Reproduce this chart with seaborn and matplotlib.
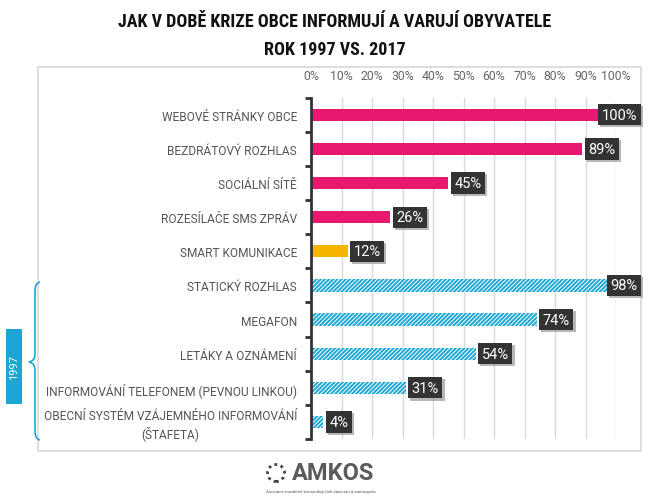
import numpy as np
import pandas as pd
import matplotlib
matplotlib.use('Agg')
import matplotlib.pyplot as plt
import seaborn as sns
from matplotlib.patches import Rectangle, PathPatch, Ellipse
from matplotlib.path import Path
import matplotlib.patheffects as pe

categories = ["WEBOVÉ STRÁNKY OBCE", "BEZDRÁTOVÝ ROZHLAS", "SOCIÁLNÍ SÍTĚ",
              "ROZESÍLAČE SMS ZPRÁV", "SMART KOMUNIKACE", "STATICKÝ ROZHLAS",
              "MEGAFON", "LETÁKY A OZNÁMENÍ", "INFORMOVÁNÍ TELEFONEM (PEVNOU LINKOU)",
              "OBECNÍ SYSTÉM VZÁJEMNÉHO INFORMOVÁNÍ\n(ŠTAFETA)"]
values = [100, 89, 45, 26, 12, 98, 74, 54, 31, 4]
groups = ["2017", "2017", "2017", "2017", "smart", "1997", "1997", "1997", "1997", "1997"]
tick_values = [0, 10, 20, 30, 40, 50, 60, 70, 80, 90, 100]
tick_labels = [f"{t}%" for t in tick_values]

PINK = "#E8176F"
ORANGE = "#F7B500"
CYAN = "#1BA6D3"

sns.set_theme(style="white")
plt.rcParams['font.family'] = ['Roboto', 'DejaVu Sans']
plt.rcParams['hatch.linewidth'] = 1.4

W, H = 670, 502
fig = plt.figure(figsize=(6.7, 5.02), dpi=100, facecolor='white')
def fx(p): return p / W
def fy(p): return 1 - p / H

ax = fig.add_axes([fx(311), fy(440), fx(616) - fx(311), fy(98.7) - fy(440)])

df = pd.DataFrame({"category": categories, "value": values, "group": groups})
palette = {"2017": PINK, "smart": ORANGE, "1997": "#FFFFFF"}
sns.barplot(data=df, x="value", y="category", hue="group", palette=palette,
            dodge=False, width=0.36, ax=ax, legend=False, saturation=1,
            order=categories)

for p in ax.patches:
    w = p.get_width()
    if not np.isfinite(w):
        continue
    idx = int(round(p.get_y() + p.get_height() / 2))
    p.set_linewidth(0)
    if groups[idx] == "1997":
        p.set_hatch('////////')
        p.set_edgecolor(CYAN)
        p.set_facecolor('white')

ax.set_xlim(0, 100)
ax.set_ylim(9.5, -0.5)
ax.xaxis.tick_top()
ax.set_xticks(tick_values, tick_labels)
ax.tick_params(axis='x', length=0, pad=11, labelsize=8.8, labelcolor='#666666')
ax.grid(axis='x', color='#dadada', lw=1)
ax.grid(axis='y', visible=False)
ax.set_axisbelow(True)
for s in ['top', 'right', 'bottom']:
    ax.spines[s].set_visible(False)
ax.spines['left'].set_color('#333333')
ax.spines['left'].set_linewidth(2)
ax.set_yticks(range(len(categories)), categories)
ax.tick_params(axis='y', which='major', length=0, pad=10, labelsize=8.6, labelcolor='#555555')
ax.set_yticks(np.arange(-0.5, len(categories), 1), minor=True)
ax.tick_params(axis='y', which='minor', length=4, width=2, color='#333333', left=True)
ax.set_xlabel('')
ax.set_ylabel('')
for lab in ax.get_yticklabels():
    lab.set_multialignment('center')

edge_frac = (641 - 311) / (616 - 311)
for i, v in enumerate(values):
    label = f"{v}%"
    if v >= 95:
        t = ax.annotate(label, xy=(edge_frac, i), xycoords=('axes fraction', 'data'),
                        xytext=(-2.6, 0), textcoords='offset points', ha='right', va='center',
                        color='white', fontsize=10.5,
                        bbox=dict(boxstyle='square,pad=0.25', fc='#333333', ec='none'))
    else:
        t = ax.annotate(label, xy=(v, i), xytext=(4.3, 0), textcoords='offset points',
                        ha='left', va='center', color='white', fontsize=10.5,
                        bbox=dict(boxstyle='square,pad=0.25', fc='#333333', ec='none'))
    t.set_clip_on(False)
    t.get_bbox_patch().set_path_effects([
        pe.SimplePatchShadow(offset=(1.5, -1.5), shadow_rgbFace='#888888', alpha=0.6),
        pe.Normal()])

# Title
title_font = ['Roboto Condensed', 'Roboto', 'DejaVu Sans']
fig.text(0.5, fy(22), "JAK V DOBĚ KRIZE OBCE INFORMUJÍ A VARUJÍ OBYVATELE",
         ha='center', va='center', fontsize=13, weight='bold', family=title_font, color='#111111')
fig.text(0.5, fy(50), "ROK 1997 VS. 2017",
         ha='center', va='center', fontsize=13, weight='bold', family=title_font, color='#111111')

# Panel border
fig.add_artist(Rectangle((fx(38), fy(452)), fx(641) - fx(38), fy(68) - fy(452),
                         transform=fig.transFigure, fill=False, edgecolor='#d8d8d8', lw=1.2, zorder=0))

# Brace for 1997
pts = [(40, 283), (35, 284), (35, 292), (35, 300),
       (35, 355), (35, 362), (29, 363), (35, 364), (35, 371),
       (35, 432), (35, 440), (40, 441)]
verts = [(fx(x), fy(y)) for x, y in pts]
codes = [Path.MOVETO, Path.CURVE3, Path.CURVE3, Path.LINETO,
         Path.LINETO, Path.CURVE3, Path.CURVE3, Path.CURVE3, Path.CURVE3,
         Path.LINETO, Path.CURVE3, Path.CURVE3]
fig.add_artist(PathPatch(Path(verts, codes), transform=fig.transFigure, fill=False,
                         edgecolor=CYAN, lw=1.2))
fig.add_artist(Rectangle((fx(6), fy(405)), fx(22) - fx(6), fy(330) - fy(405),
                         transform=fig.transFigure, facecolor=CYAN, edgecolor='none'))
fig.text(fx(14), fy(367.5), "1997", rotation=90, ha='center', va='center',
         color='white', fontsize=8)

# Logo
fig.add_artist(Ellipse((fx(276), fy(474)), fx(17), 17 / H, transform=fig.transFigure,
                       fill=False, edgecolor='#444444', lw=2, linestyle=(0, (1, 1.3))))
fig.text(fx(292), fy(474), "AMKOS", ha='left', va='center', fontsize=17, weight='bold',
         color='#5a5a5a', family=['Roboto', 'DejaVu Sans'])
fig.text(fx(266), fy(492), "Asociace moderně komunikujících starostů a samospráv",
         ha='left', va='center', fontsize=3.2, color='#555555')

fig.savefig('out.png', dpi=100, facecolor='white')
